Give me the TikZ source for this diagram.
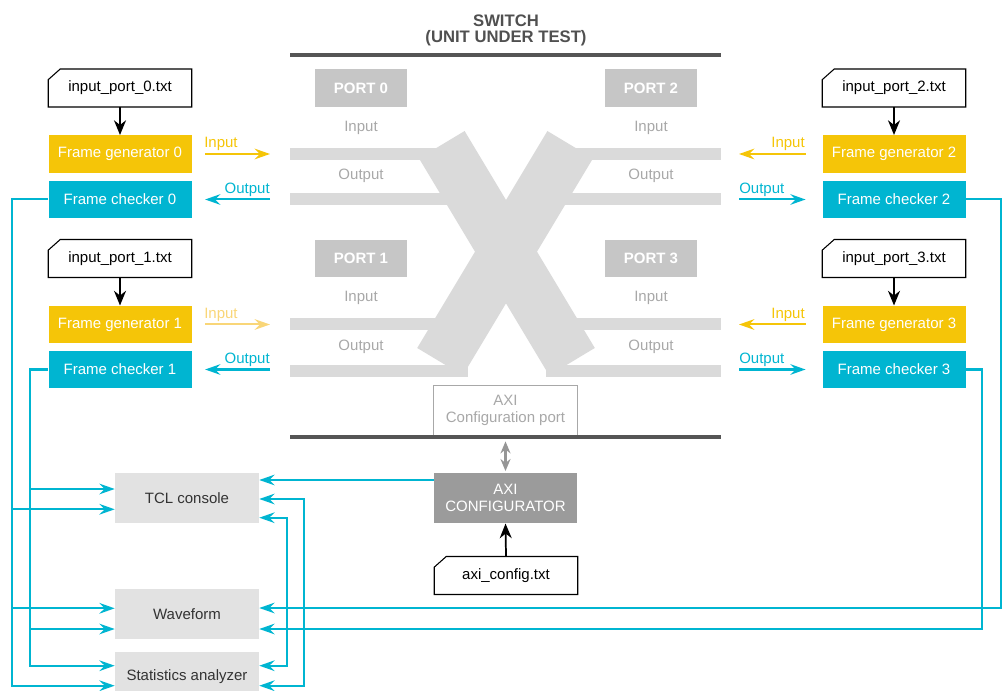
\documentclass[tikz,border=0pt]{standalone}
\usepackage{fontspec}
\setmainfont{Liberation Sans}
\usetikzlibrary{arrows.meta}
\definecolor{yel}{RGB}{245,197,8}
\definecolor{yellight}{RGB}{249,214,120}
\definecolor{cya}{RGB}{0,181,209}
\definecolor{barg}{RGB}{218,218,218}
\definecolor{portg}{RGB}{198,198,198}
\definecolor{txtg}{RGB}{168,168,168}
\definecolor{darkbar}{RGB}{85,85,85}
\definecolor{cfgg}{RGB}{155,155,155}
\definecolor{boxg}{RGB}{226,226,226}
\definecolor{titleg}{RGB}{80,80,80}
\newcommand\fs{\fontsize{11.25}{12.75}\selectfont}
\newcommand\notebox[1]{\draw[black, line width=0.8pt] ([yshift=-8pt]#1.north west) -- ([xshift=9pt]#1.north west) -- (#1.north east) -- (#1.south east) -- (#1.south west) -- cycle;}
\tikzset{
  box/.style={minimum width=107.25pt, minimum height=28.1pt, inner sep=0pt, text=white, font=\fs},
  genbox/.style={box, fill=yel},
  chkbox/.style={box, fill=cya},
  notenode/.style={box, text=black},
  portbox/.style={minimum width=69pt, minimum height=28.1pt, inner sep=0pt, fill=portg, text=white, font=\fs\bfseries},
  graybox/.style={minimum width=108pt, minimum height=37.5pt, inner sep=0pt, fill=boxg, text={rgb,255:red,51;green,51;blue,51}, font=\fs},
  barnode/.style={fill=barg, inner sep=0pt, minimum height=9pt},
  lbl/.style={inner sep=0pt, font=\fs},
  glbl/.style={lbl, text=txtg},
  tipc/.style={-{Stealth[length=11.5pt,width=8pt,inset=4pt]}},
  yarr/.style={tipc, draw=yel, line width=1.5pt},
  ylarr/.style={tipc, draw=yellight, line width=1.5pt},
  carr/.style={tipc, draw=cya, line width=1.5pt},
  cyline/.style={draw=cya, line width=1.5pt},
  blk/.style={-{Stealth[length=11pt,width=9pt,inset=3.5pt]}, draw=black, line width=1.3pt},
}
\begin{document}
\begin{tikzpicture}[x=0.75pt,y=-0.75pt]
\useasboundingbox (0,0) rectangle (1006,691);
\clip (0,0) rectangle (1006,691);

% ---- switch title and bars
\node[font=\fontsize{12.5}{11.6}\selectfont\bfseries, text=titleg, align=center, inner sep=0pt] (title) at (506,30.5) {SWITCH\\(UNIT UNDER TEST)};
\coordinate (topL) at (290,55);
\coordinate (topR) at (721,55);
\draw[darkbar, line width=3pt] (topL) -- (topR);

% ---- crossing bands
\fill[barg] (464.6,131) -- (594.8,348) -- (549.2,375.4) -- (419,158.4) -- cycle;
\fill[barg] (547.4,131) -- (593,158.4) -- (462.8,375.4) -- (417.2,348) -- cycle;

% ---- lanes
\node[barnode, minimum width=112.5pt, anchor=west] (b0in) at (290,154) {};
\node[barnode, minimum width=135pt, anchor=west] (b0out) at (290,199.5) {};
\node[barnode, minimum width=131.25pt, anchor=west] (b1in) at (290,324) {};
\node[barnode, minimum width=133.5pt, anchor=west] (b1out) at (290,371) {};
\node[barnode, minimum width=111.75pt, anchor=east] (b2in) at (721,154) {};
\node[barnode, minimum width=134.25pt, anchor=east] (b2out) at (721,199.5) {};
\node[barnode, minimum width=131.25pt, anchor=east] (b3in) at (721,324) {};
\node[barnode, minimum width=131.25pt, anchor=east] (b3out) at (721,371) {};

% ---- ports
\node[portbox] (p0) at (361,88) {PORT 0};
\node[portbox] (p2) at (651,88) {PORT 2};
\node[portbox] (p1) at (361,258.5) {PORT 1};
\node[portbox] (p3) at (651,258.5) {PORT 3};
\node[glbl] (g0i) at (361,128) {Input};
\node[glbl] (g0o) at (361,176) {Output};
\node[glbl] (g2i) at (651,128) {Input};
\node[glbl] (g2o) at (651,176) {Output};
\node[glbl] (g1i) at (361,298) {Input};
\node[glbl] (g1o) at (361,347) {Output};
\node[glbl] (g3i) at (651,298) {Input};
\node[glbl] (g3o) at (651,347) {Output};

% ---- AXI
\node[draw=txtg, fill=white, line width=0.6pt, minimum width=108pt, minimum height=37.5pt, inner sep=0pt, text=txtg, font=\fs, align=center] (axiport) at (505.5,410) {AXI\\Configuration port};
\coordinate (botL) at (290,437);
\coordinate (botR) at (721,437);
\draw[darkbar, line width=3pt] (botL) -- (botR);
\node[fill=cfgg, minimum width=107pt, minimum height=37.5pt, inner sep=0pt, text=white, font=\fs, align=center] (axicfg) at (505.5,498.3) {AXI\\CONFIGURATOR};
\node[notenode] (axitxt) at (506,575.5) {axi\_config.txt};
\notebox{axitxt}
\draw[blk] (axitxt.north) -- (axicfg.north |- axicfg.south);
\draw[draw={rgb,255:red,150;green,150;blue,150}, line width=2pt, {Stealth[length=9pt,width=7.5pt]}-{Stealth[length=9pt,width=7.5pt]}] ([yshift=-4.5pt]axiport.south) -- ([yshift=1.5pt]axicfg.north);

% ---- left column
\node[notenode] (in0) at (120,88) {input\_port\_0.txt};
\notebox{in0}
\node[genbox] (fg0) at (120,154) {Frame generator 0};
\node[chkbox] (fc0) at (120,199.5) {Frame checker 0};
\node[notenode] (in1) at (120,258.5) {input\_port\_1.txt};
\notebox{in1}
\node[genbox] (fg1) at (120,324.5) {Frame generator 1};
\node[chkbox] (fc1) at (120,369.5) {Frame checker 1};
\draw[blk] (in0) -- (fg0);
\draw[blk] (in1) -- (fg1);

% ---- right column
\node[notenode] (in2) at (894,88) {input\_port\_2.txt};
\notebox{in2}
\node[genbox] (fg2) at (894,154) {Frame generator 2};
\node[chkbox] (fc2) at (894,199.5) {Frame checker 2};
\node[notenode] (in3) at (894,258.5) {input\_port\_3.txt};
\notebox{in3}
\node[genbox] (fg3) at (894,324.5) {Frame generator 3};
\node[chkbox] (fc3) at (894,369.5) {Frame checker 3};
\draw[blk] (in2) -- (fg2);
\draw[blk] (in3) -- (fg3);

% ---- port arrows and labels
\draw[yarr] ([xshift=10pt]fg0.east) -- ([xshift=-15pt]b0in.west);
\draw[carr] ([xshift=-15pt]b0out.west) -- ([xshift=10pt]fc0.east);
\draw[ylarr] ([xshift=10pt]fg1.east) -- ([xshift=-15pt]b1in.west |- fg1.east);
\draw[carr] ([xshift=-15pt]b1out.west |- fc1.west) -- ([xshift=10pt]fc1.east);
\draw[yarr] ([xshift=-12.5pt]fg2.west) -- ([xshift=13.5pt]b2in.east);
\draw[carr] ([xshift=13.5pt]b2out.east) -- ([xshift=-12.5pt]fc2.west);
\draw[yarr] ([xshift=-12.5pt]fg3.west) -- ([xshift=13.5pt]b3in.east |- fg3.west);
\draw[carr] ([xshift=13.5pt]b3out.east |- fc3.west) -- ([xshift=-12.5pt]fc3.west);

\node[lbl, text=yel, anchor=base west] (l0i) at (204,148) {Input};
\node[lbl, text=cya, anchor=base east] (l0o) at (270,193.5) {Output};
\node[lbl, text=yellight, anchor=base west] (l1i) at (204,318.5) {Input};
\node[lbl, text=cya, anchor=base east] (l1o) at (270,363.5) {Output};
\node[lbl, text=yel, anchor=base east] (l2i) at (805,148) {Input};
\node[lbl, text=cya, anchor=base west] (l2o) at (739,193.5) {Output};
\node[lbl, text=yel, anchor=base east] (l3i) at (805,318.5) {Input};
\node[lbl, text=cya, anchor=base west] (l3o) at (739,363.5) {Output};

% ---- analysis boxes
\node[graybox] (tcl) at (187,498.3) {TCL console};
\node[graybox] (wave) at (187,614) {Waveform};
\node[graybox] (stats) at (187,677) {Statistics analyzer};

% ---- left feeds
\draw[cyline, tipc] (fc0.west) -| (12,685.7) -- (stats.west |- 0,685.7);
\draw[cyline, tipc] (12,509.3) -- (tcl.west |- 0,509.3);
\draw[cyline, tipc] (12,608.3) -- (wave.west |- 0,608.3);
\draw[cyline, tipc] (fc1.west) -| (30,665.7) -- (stats.west |- 0,665.7);
\draw[cyline, tipc] (30,489) -- (tcl.west |- 0,489);
\draw[cyline, tipc] (30,629) -- (wave.west |- 0,629);

% ---- right feeds
\draw[cyline, tipc] (axicfg.west |- 0,480) -- (tcl.east |- 0,480);
\draw[cyline, tipc] (fc2.east) -| (1001,608) -- (wave.east |- 0,608);
\draw[cyline, tipc] (304,608) |- (tcl.east |- 0,499);
\draw[cyline, tipc] (304,608) |- (stats.east |- 0,685.7);
\draw[cyline, tipc] (fc3.east) -| (982,629) -- (wave.east |- 0,629);
\draw[cyline, tipc] (287,629) |- (tcl.east |- 0,517.7);
\draw[cyline, tipc] (287,629) |- (stats.east |- 0,665.7);
\end{tikzpicture}
\end{document}
